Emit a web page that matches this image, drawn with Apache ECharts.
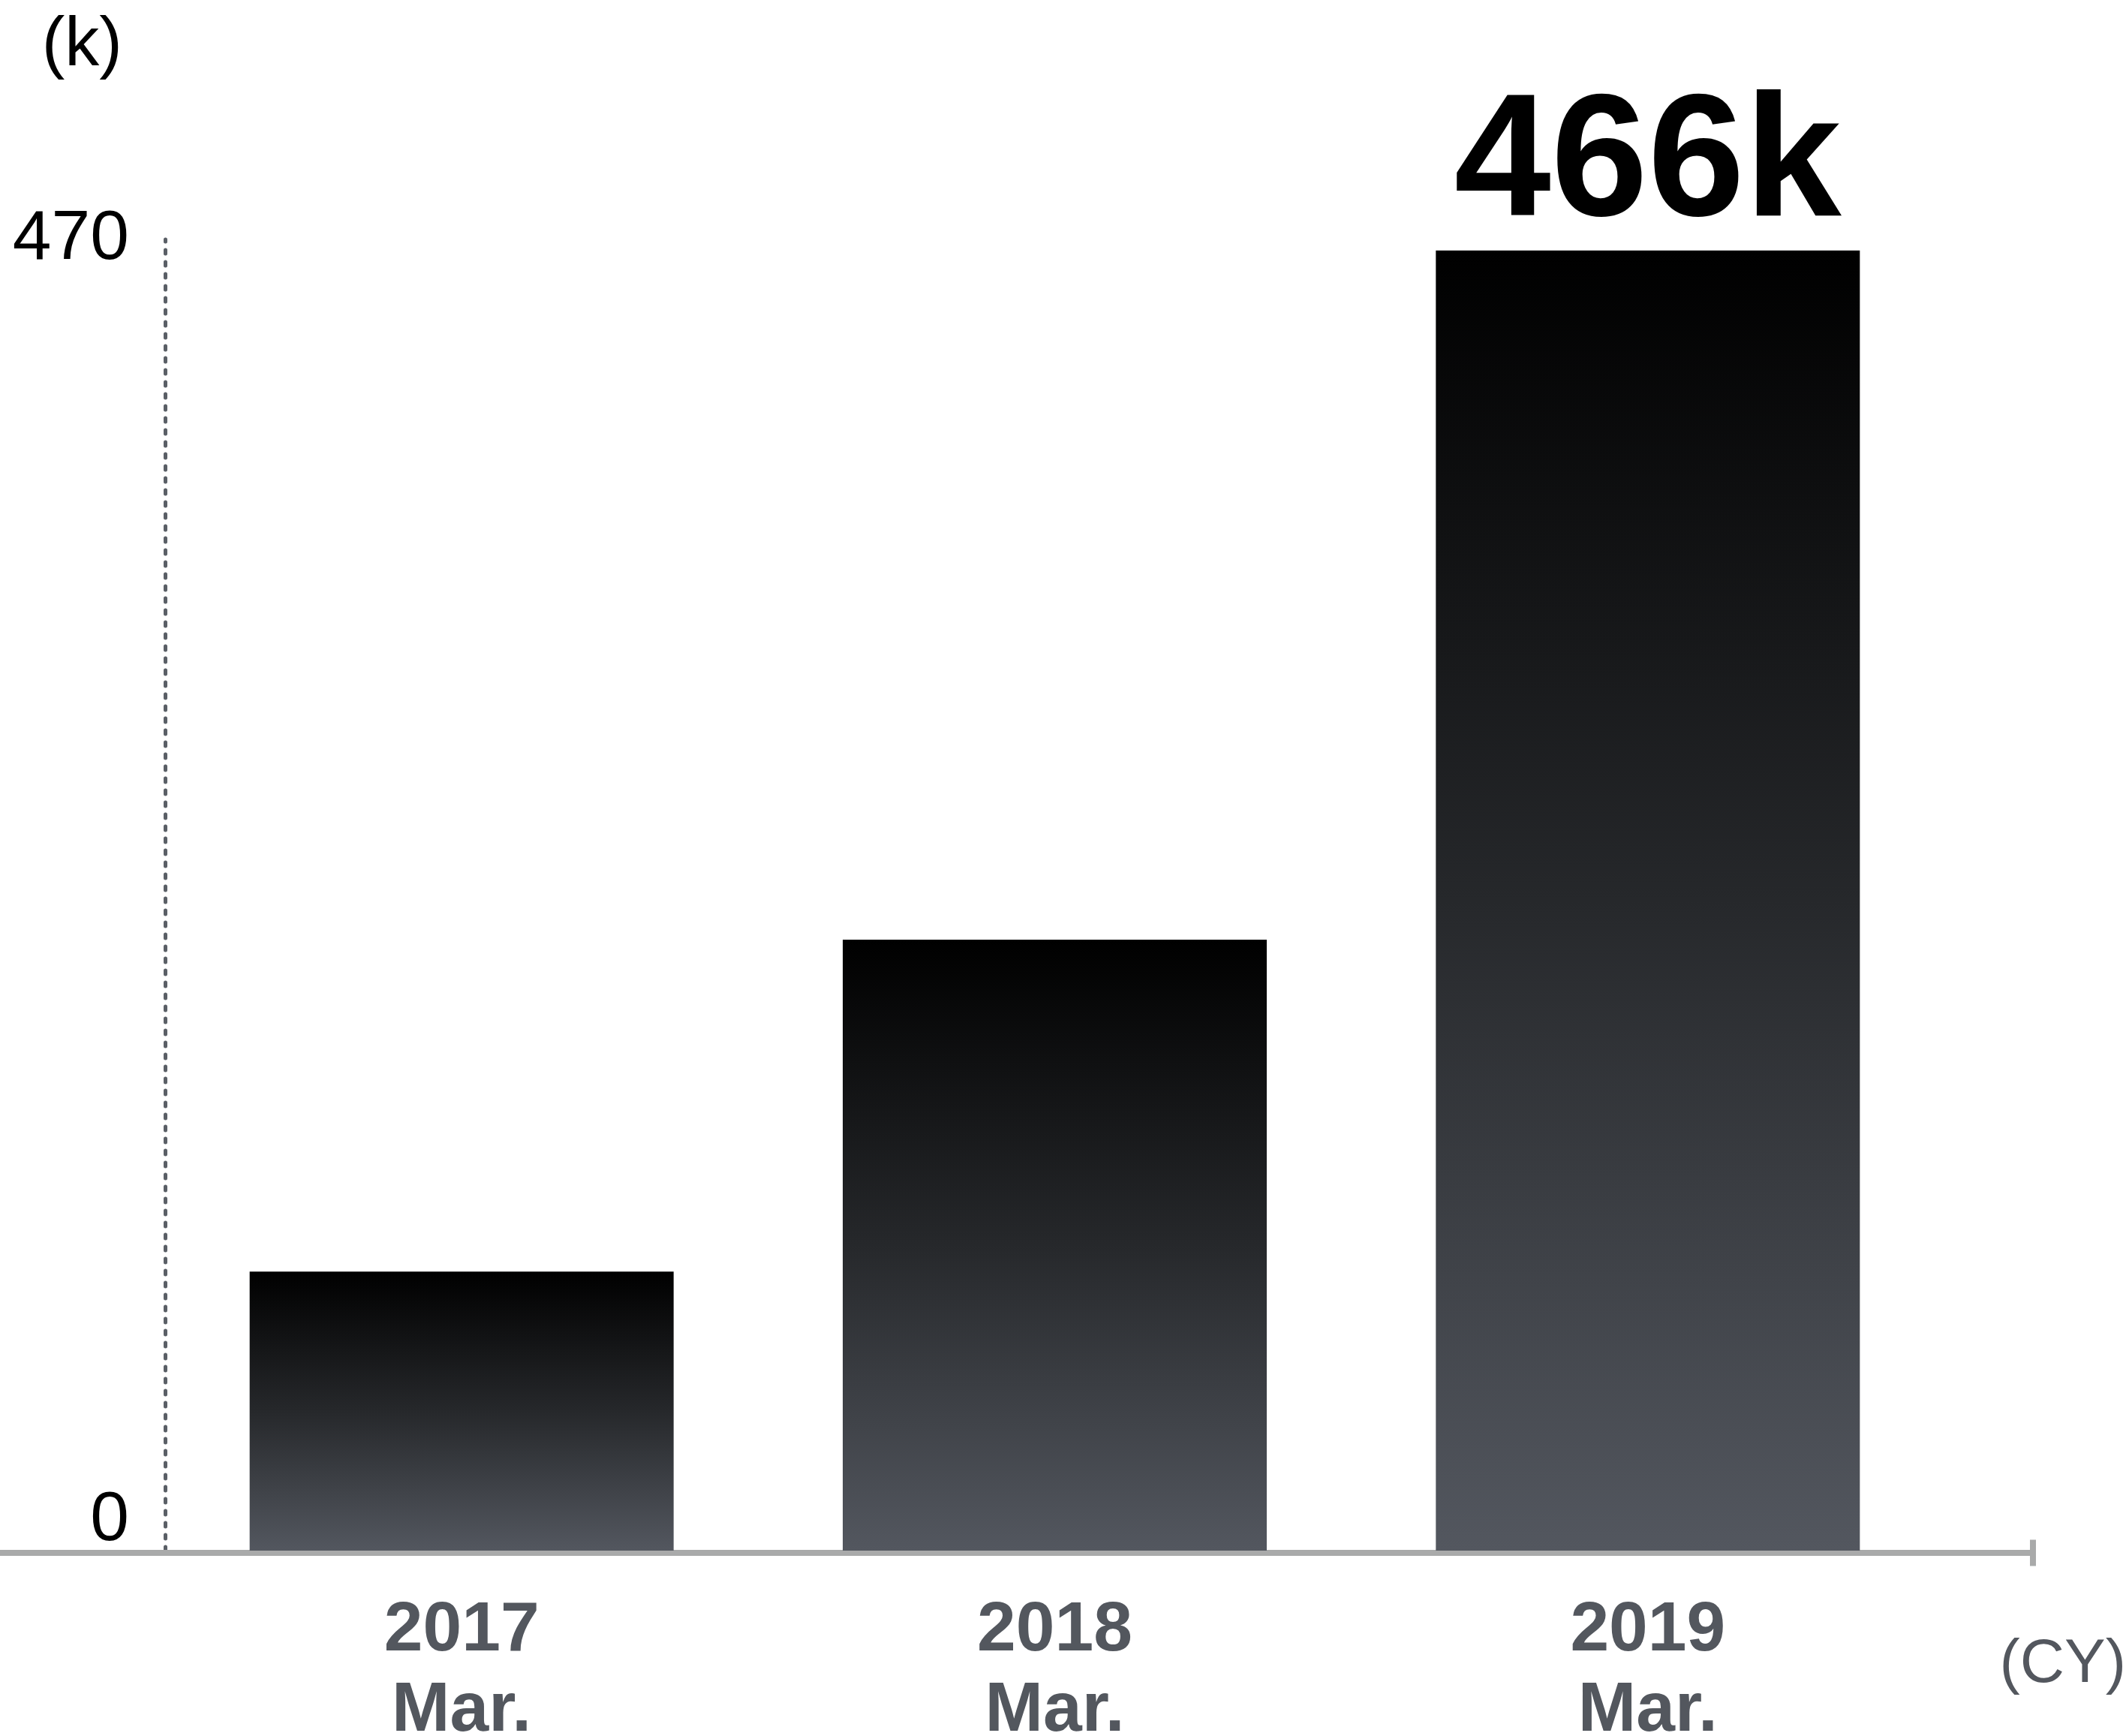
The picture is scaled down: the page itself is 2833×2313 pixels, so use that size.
<!DOCTYPE html>
<html>
<head>
<meta charset="utf-8">
<title>Users (k), March of each year</title>
<script src="https://cdn.jsdelivr.net/npm/echarts@6/dist/echarts.min.js"></script>
<style>
  html, body { margin: 0; padding: 0; background: #ffffff; }
  #chart { width: 2833px; height: 2313px; }
</style>
</head>
<body>
<div id="chart"></div>
<script>
// Data
const years = ['2017', '2018', '2019'];
const months = ['Mar.', 'Mar.', 'Mar.'];
const values = [100, 219, 466];        // thousands
const yTicks = [0, 470];
const highlightIndex = 2;              // bar that carries the value callout

const FONT = '"Liberation Sans", Arial, Helvetica, sans-serif';
const LABEL_GREY = '#53575e';

const chart = echarts.init(document.getElementById('chart'), null, { renderer: 'canvas' });

const categories = years.map((y, i) => y + '\n' + months[i]);

const barData = values.map((v, i) => {
  const item = { value: v };
  if (i === highlightIndex) {
    item.label = {
      show: true,
      position: 'top',
      distance: 0,
      formatter: '{c}k',
      fontFamily: FONT,
      fontWeight: 'bold',
      fontSize: 232,
      lineHeight: 222,
      color: '#000000'
    };
  }
  return item;
});

const option = {
  backgroundColor: '#ffffff',
  animation: false,
  grid: [
    // plotting area for the bars
    { left: 220, right: 242, top: 319, bottom: 247, outerBoundsMode: 'none', containLabel: false },
    // full-width baseline running under the bars
    { left: 0, right: 124, top: 319, bottom: 244, outerBoundsMode: 'none', containLabel: false }
  ],
  xAxis: [
    {
      type: 'category',
      gridIndex: 0,
      data: categories,
      axisLine: { show: false },
      axisTick: { show: false },
      axisLabel: {
        margin: 54,
        fontFamily: FONT,
        fontWeight: 'bold',
        fontSize: 93,
        lineHeight: 107,
        color: LABEL_GREY
      }
    },
    {
      type: 'value',
      gridIndex: 1,
      min: 0,
      max: 1,
      axisLine: {
        show: true,
        symbol: ['none', 'rect'],
        symbolSize: [35, 8],
        lineStyle: { color: '#a9aaaa', width: 8 }
      },
      axisTick: { show: false },
      axisLabel: { show: false },
      splitLine: { show: false },
      name: '(CY)',
      nameLocation: 'end',
      nameGap: 124,
      nameMoveOverlap: false,
      nameTextStyle: {
        fontFamily: FONT,
        fontSize: 82,
        lineHeight: 298,
        color: LABEL_GREY,
        align: 'right',
        verticalAlign: 'top'
      }
    }
  ],
  yAxis: [
    {
      type: 'value',
      gridIndex: 0,
      min: yTicks[0],
      max: yTicks[yTicks.length - 1],
      interval: yTicks[1] - yTicks[0],
      axisLine: {
        show: true,
        lineStyle: { color: '#5a5f66', width: 5, type: [5, 11] }
      },
      axisTick: { show: false },
      splitLine: { show: false },
      axisLabel: {
        margin: 48,
        fontFamily: FONT,
        fontSize: 93,
        lineHeight: 80,
        color: '#000000',
        formatter: v => (v === 0 ? '0\n ' : String(v))
      },
      name: '(k)',
      nameLocation: 'end',
      nameGap: 257,
      nameMoveOverlap: false,
      nameTextStyle: {
        fontFamily: FONT,
        fontSize: 92,
        lineHeight: 92,
        color: '#000000',
        align: 'right',
        verticalAlign: 'middle',
        padding: [0, 57, 0, 0]
      }
    },
    {
      type: 'value',
      gridIndex: 1,
      show: false
    }
  ],
  series: [
    {
      type: 'bar',
      xAxisIndex: 0,
      yAxisIndex: 0,
      data: barData,
      barWidth: 565,
      itemStyle: {
        color: new echarts.graphic.LinearGradient(0, 0, 0, 1, [
          { offset: 0, color: '#000000' },
          { offset: 0.5, color: '#26282b' },
          { offset: 1, color: '#53575f' }
        ])
      }
    }
  ]
};

chart.setOption(option);
</script>
</body>
</html>
